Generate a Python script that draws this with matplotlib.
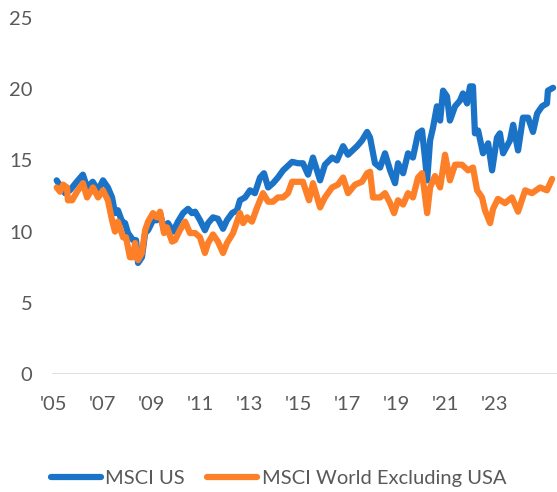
import matplotlib.pyplot as plt

# forward P/E (decimal years)
us_years = [2005.15, 2005.49, 2005.69, 2005.97, 2006.22, 2006.39, 2006.62, 2006.84, 2007.04, 2007.24,
            2007.41, 2007.53, 2007.65, 2007.82, 2007.94, 2008.06, 2008.27, 2008.39, 2008.47, 2008.63,
            2008.76, 2008.88, 2009.08, 2009.24, 2009.37, 2009.53, 2009.69, 2009.90, 2010.10, 2010.31,
            2010.51, 2010.67, 2010.80, 2011.00, 2011.20, 2011.33, 2011.53, 2011.73, 2011.94, 2012.10,
            2012.31, 2012.51, 2012.63, 2012.84, 2013.04, 2013.24, 2013.45, 2013.61, 2013.78, 2013.98,
            2014.18, 2014.39, 2014.76, 2015.00, 2015.20, 2015.41, 2015.61, 2015.90, 2016.10, 2016.39,
            2016.59, 2016.84, 2017.04, 2017.41, 2017.61, 2017.82, 2017.94, 2018.14, 2018.35, 2018.55,
            2018.76, 2018.96, 2019.08, 2019.29, 2019.49, 2019.69, 2019.90, 2020.06, 2020.18, 2020.27,
            2020.39, 2020.51, 2020.67, 2020.80, 2020.92, 2021.08, 2021.20, 2021.41, 2021.61, 2021.73,
            2021.90, 2022.02, 2022.14, 2022.22, 2022.35, 2022.55, 2022.76, 2022.92, 2023.12, 2023.24,
            2023.37, 2023.65, 2023.78, 2023.98, 2024.18, 2024.39, 2024.59, 2024.76, 2024.96, 2025.16,
            2025.20, 2025.41]
us_pe = [13.6, 12.7, 12.9, 13.5, 14.0, 13.1, 13.5, 12.9, 13.6, 13.1,
         12.4, 11.3, 11.5, 10.7, 10.6, 9.9, 9.4, 9.4, 7.8, 8.2,
         9.9, 10.1, 10.8, 10.8, 11.3, 10.1, 10.6, 10.0, 10.7, 11.3,
         11.6, 11.3, 11.4, 10.8, 10.1, 10.6, 11.0, 10.9, 10.2, 10.8,
         11.3, 11.5, 12.2, 12.4, 12.9, 12.7, 13.8, 14.1, 13.1, 13.4,
         13.8, 14.3, 14.9, 14.8, 14.8, 14.0, 15.2, 13.6, 14.7, 15.2,
         15.0, 16.0, 15.4, 16.0, 16.4, 17.0, 16.6, 14.8, 14.5, 15.5,
         14.3, 13.4, 14.8, 14.1, 15.5, 15.2, 16.9, 17.1, 15.2, 13.6,
         16.4, 17.3, 18.8, 17.8, 19.9, 19.5, 17.8, 18.8, 19.2, 19.7,
         19.0, 20.2, 20.2, 16.9, 17.1, 15.5, 16.2, 14.3, 16.6, 16.9,
         15.5, 16.4, 17.5, 15.7, 18.0, 18.0, 17.0, 18.3, 18.8, 19.0,
         19.9, 20.1]

exus_years = [2005.15, 2005.29, 2005.41, 2005.57, 2005.61, 2005.78, 2005.98, 2006.22, 2006.39, 2006.63,
              2006.84, 2007.04, 2007.24, 2007.41, 2007.53, 2007.65, 2007.86, 2007.98, 2008.14, 2008.27,
              2008.35, 2008.47, 2008.63, 2008.76, 2008.88, 2009.08, 2009.24, 2009.37, 2009.53, 2009.65,
              2009.86, 2009.98, 2010.18, 2010.39, 2010.59, 2010.80, 2011.00, 2011.20, 2011.33, 2011.53,
              2011.73, 2011.94, 2012.10, 2012.35, 2012.63, 2012.76, 2012.92, 2013.12, 2013.33, 2013.57,
              2013.78, 2013.98, 2014.18, 2014.39, 2014.59, 2014.76, 2015.00, 2015.20, 2015.45, 2015.61,
              2015.90, 2016.10, 2016.39, 2016.63, 2016.84, 2017.04, 2017.33, 2017.61, 2017.82, 2017.94,
              2018.06, 2018.35, 2018.55, 2018.76, 2018.92, 2019.08, 2019.29, 2019.49, 2019.69, 2019.90,
              2020.06, 2020.14, 2020.27, 2020.39, 2020.59, 2020.80, 2021.00, 2021.20, 2021.41, 2021.69,
              2021.94, 2022.14, 2022.31, 2022.51, 2022.63, 2022.84, 2022.96, 2023.16, 2023.45, 2023.73,
              2023.98, 2024.27, 2024.55, 2024.88, 2025.16, 2025.37]
exus_pe = [13.1, 12.8, 13.3, 13.1, 12.2, 12.2, 12.8, 13.4, 12.4, 13.1,
           12.4, 12.9, 12.2, 10.8, 10.0, 10.7, 9.6, 9.6, 8.2, 8.2,
           9.2, 8.0, 8.5, 10.1, 10.7, 11.3, 11.0, 11.4, 9.9, 10.3,
           9.3, 9.4, 10.1, 10.7, 9.9, 9.9, 9.6, 8.5, 9.2, 9.8,
           9.3, 8.5, 9.2, 9.9, 11.3, 10.6, 11.0, 10.7, 11.7, 12.7,
           12.1, 12.1, 12.4, 12.4, 12.7, 13.5, 13.5, 13.5, 12.2, 13.4,
           11.7, 12.4, 13.1, 13.3, 13.8, 12.7, 13.3, 13.5, 14.1, 14.2,
           12.4, 12.4, 12.7, 12.0, 11.3, 12.2, 11.9, 12.7, 12.4, 13.8,
           14.1, 13.1, 11.3, 13.1, 13.9, 13.1, 15.4, 13.6, 14.7, 14.7,
           14.3, 14.5, 12.9, 12.4, 11.5, 10.6, 11.6, 12.3, 12.0, 12.4,
           11.4, 12.9, 12.7, 13.1, 12.9, 13.7]

tick_years = [2005, 2007, 2009, 2011, 2013, 2015, 2017, 2019, 2021, 2023]
tick_labels = ["'05", "'07", "'09", "'11", "'13", "'15", "'17", "'19", "'21", "'23"]

plt.rcParams['font.family'] = ['Lato', 'DejaVu Sans']

fig = plt.figure(figsize=(5.57, 4.92), dpi=100)
ax = fig.add_axes([0.0934, 0.2398, 0.9066, 0.7236])

ax.plot(us_years, us_pe, color='#1B73C7', lw=4.5, solid_capstyle='round',
        solid_joinstyle='round', label='MSCI US')
ax.plot(exus_years, exus_pe, color='#FD7F28', lw=4.5, solid_capstyle='round',
        solid_joinstyle='round', label='MSCI World Excluding USA')
ax.axhline(0, color='#d9d9d9', lw=1.2, zorder=0)

ax.set_xlim(2004.96, 2025.57)
ax.set_ylim(0, 25)
ax.set_yticks([0, 5, 10, 15, 20, 25])
ax.set_xticks(tick_years)
ax.set_xticklabels(tick_labels)
ax.tick_params(axis='both', length=0, labelsize=14.5, labelcolor='#595959')
ax.tick_params(axis='y', pad=14)
ax.tick_params(axis='x', pad=16)
for s in ax.spines.values():
    s.set_visible(False)

leg = fig.legend(loc='center', bbox_to_anchor=(0.5, 0.028), ncol=2, frameon=False,
                 fontsize=14.5, handlelength=2.5, handletextpad=0.2, columnspacing=1.1)
for t in leg.get_texts():
    t.set_color('#595959')
for h in leg.get_lines():
    h.set_linewidth(4.5)

fig.savefig('out.png', dpi=100)
